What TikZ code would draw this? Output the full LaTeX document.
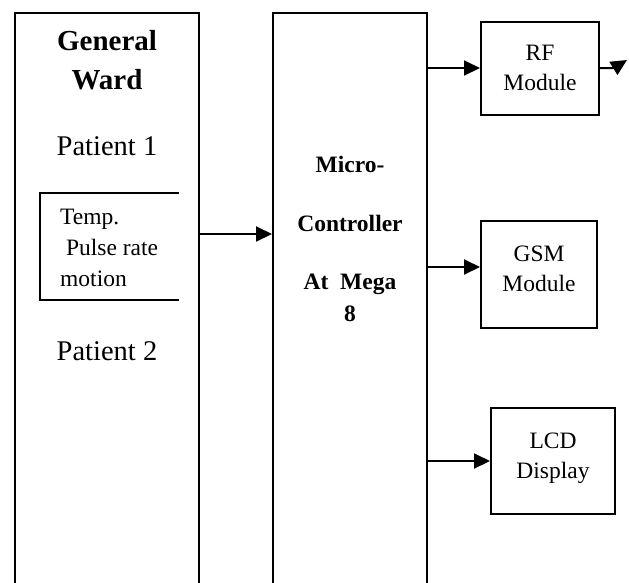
\documentclass[tikz,border=0pt]{standalone}
\usepackage{fontspec}
\setmainfont{Liberation Serif}
\usetikzlibrary{arrows.meta}

\begin{document}
\begin{tikzpicture}[x=1pt,y=-1pt,
  >={Triangle[length=16pt,width=15pt]},
  block/.style={draw,line width=2pt,inner sep=0pt},
  link/.style={->,line width=2pt},
  headtxt/.style={font=\fontsize{29}{39}\selectfont\bfseries,align=center},
  patient/.style={font=\fontsize{28.5}{34}\selectfont},
  boldtxt/.style={font=\fontsize{23.5}{32}\selectfont\bfseries,align=center},
  txt/.style={font=\fontsize{23.5}{30}\selectfont,align=center}]
\useasboundingbox (0,0) rectangle (629,582);
\clip (0,0) rectangle (629,582);

% the two tall columns run on past the bottom edge
\node[block,minimum width=184pt,minimum height=600pt,anchor=north] (ward) at (107,12) {};
\node[block,minimum width=154pt,minimum height=600pt,anchor=north] (mcu) at (350,12) {};

% base of a multi-line node = baseline of its last line
\node[headtxt,anchor=base] (wardname) at (107,89) {General\\Ward};
\node[patient,anchor=base] (pat1) at (107,155) {Patient 1};
\node[patient,anchor=base] (pat2) at (107,360) {Patient 2};

% sensor readings of patient 1
\draw[line width=1.4pt] (179,193) -- (40,193) -- (40,300) -- (179,300);
\node[txt,align=left,anchor=base west,inner sep=0pt,font=\fontsize{23.5}{31}\selectfont] (sense) at (60,286) {Temp.\\\ Pulse rate\\motion};

\node[boldtxt,anchor=base] (mcu1) at (350,172) {Micro-};
\node[boldtxt,anchor=base] (mcu2) at (350,231) {Controller};
\node[boldtxt,anchor=base] (mcu3) at (350,321) {At\ \ Mega\\8};

% output modules
\node[block,txt,minimum width=118pt,minimum height=93pt] (rf) at (540,68) {RF\\Module};
\node[block,txt,minimum width=116pt,minimum height=107pt,text depth=10pt] (gsm) at (539,274) {GSM\\Module};
\node[block,txt,minimum width=124pt,minimum height=106pt,text depth=10pt] (lcd) at (553,461) {LCD\\Display};

\coordinate (wout) at (199,234);
\coordinate (air) at (627,60);
\draw[link] (wout) -- (wout -| mcu.west);
\draw[link] (rf.west -| mcu.east) -- (rf.west);
\draw[link] ([yshift=7pt]gsm.west -| mcu.east) -- ([yshift=7pt]gsm.west);
\draw[link] (lcd.west -| mcu.east) -- (lcd.west);
\draw[link] (rf.east) -- ++(14,0) -- (air);
\end{tikzpicture}
\end{document}
